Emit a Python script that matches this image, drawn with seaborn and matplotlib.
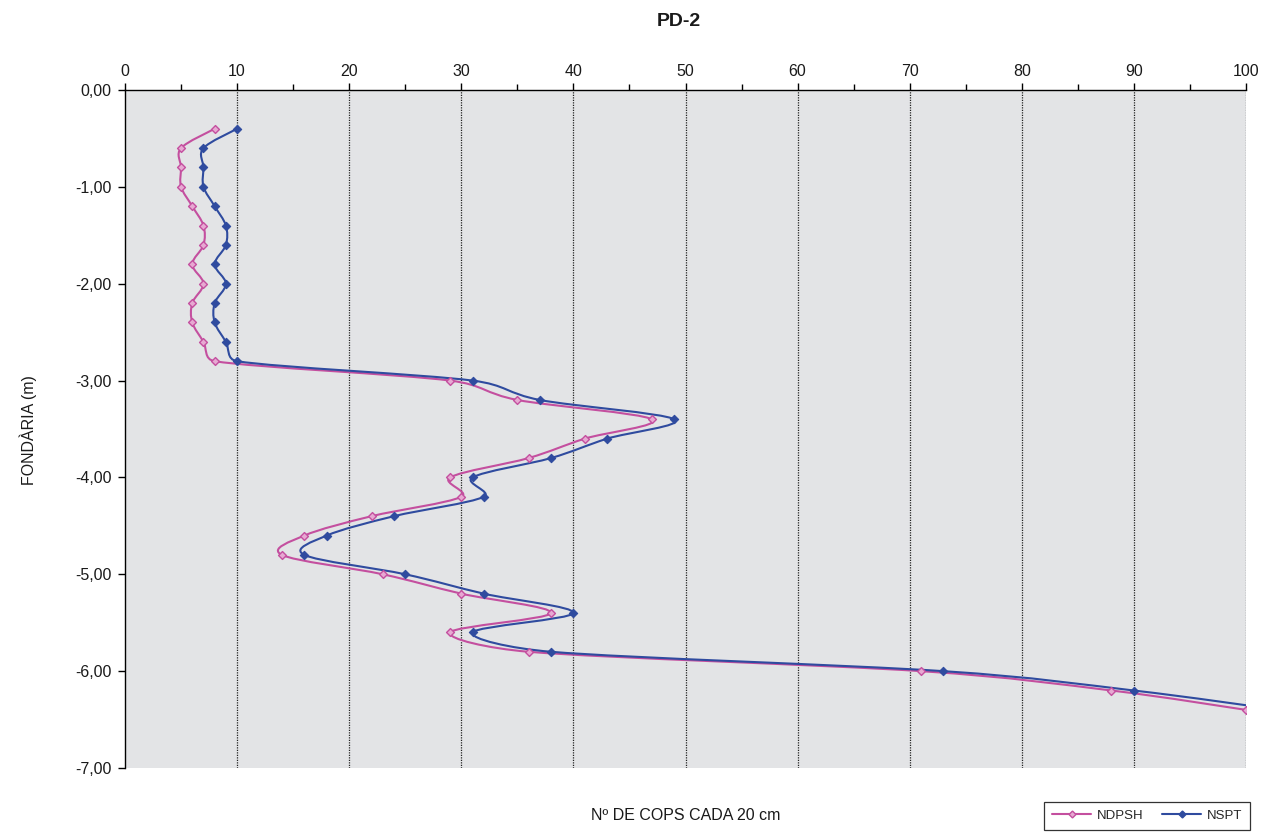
import numpy as np
import pandas as pd
import seaborn as sns
import matplotlib
matplotlib.use("Agg")
import matplotlib.pyplot as plt
from matplotlib.path import Path
from matplotlib.patches import PathPatch
from matplotlib.lines import Line2D
from matplotlib.ticker import MultipleLocator, FuncFormatter

# ---- data ----
depth = [-0.4, -0.6, -0.8, -1.0, -1.2, -1.4, -1.6, -1.8, -2.0, -2.2, -2.4,
         -2.6, -2.8, -3.0, -3.2, -3.4, -3.6, -3.8, -4.0, -4.2, -4.4, -4.6,
         -4.8, -5.0, -5.2, -5.4, -5.6, -5.8, -6.0, -6.2, -6.4]
ndpsh = [8, 5, 5, 5, 6, 7, 7, 6, 7, 6, 6, 7, 8, 29, 35, 47, 41, 36, 29, 30,
         22, 16, 14, 23, 30, 38, 29, 36, 71, 88, 100]
nspt = [10, 7, 7, 7, 8, 9, 9, 8, 9, 8, 8, 9, 10, 31, 37, 49, 43, 38, 31, 32,
        24, 18, 16, 25, 32, 40, 31, 38, 73, 90, 103]
series_names = ["NDPSH", "NSPT"]
x_ticks = [0, 10, 20, 30, 40, 50, 60, 70, 80, 90, 100]
y_ticks = [0, -1, -2, -3, -4, -5, -6, -7]
title = "PD-2"
xlabel = "Nº DE COPS CADA 20 cm"
ylabel = "FONDÀRIA (m)"

colors = {"NDPSH": "#C44F9F", "NSPT": "#2F4B9F"}

sns.set_style("white")
plt.rcParams["font.family"] = ["Liberation Sans", "DejaVu Sans"]

fig = plt.figure(figsize=(12.62, 8.35), dpi=100)
ax = fig.add_axes([125 / 1262, 1 - 768 / 835, (1246 - 125) / 1262, (768 - 90) / 835])
ax.set_facecolor("#E3E4E6")
ax.set_xlim(0, 100)
ax.set_ylim(-7, 0)

df = pd.DataFrame({
    "depth": depth * 2,
    "value": ndpsh + nspt,
    "serie": ["NDPSH"] * len(depth) + ["NSPT"] * len(depth),
})


def smooth_path(xs, ys, ax):
    """Excel-like smoothed line: cubic Bezier through the data points,
    tangents limited in screen space to avoid large overshoot."""
    D = np.column_stack([xs, ys]).astype(float)
    P = ax.transData.transform(D)
    n = len(P)
    verts = [D[0]]
    codes = [Path.MOVETO]
    inv = ax.transData.inverted()
    for i in range(n - 1):
        p0 = P[i - 1] if i > 0 else P[i]
        p1 = P[i]
        p2 = P[i + 1]
        p3 = P[i + 2] if i + 2 < n else P[i + 1]
        seg = np.linalg.norm(p2 - p1)
        t1 = (p2 - p0) / 6.0
        t2 = (p3 - p1) / 6.0
        lim = seg * 0.5
        for t in (t1, t2):
            L = np.linalg.norm(t)
            if L > lim and L > 0:
                t *= lim / L
        c1 = p1 + t1
        c2 = p2 - t2
        verts += list(inv.transform(np.array([c1, c2]))) + [D[i + 1]]
        codes += [Path.CURVE4] * 3
    return Path(verts, codes)


# smoothed lines
for name, vals in (("NDPSH", ndpsh), ("NSPT", nspt)):
    patch = PathPatch(smooth_path(vals, depth, ax), facecolor="none",
                      edgecolor=colors[name], lw=1.5, zorder=3)
    ax.add_patch(patch)

# markers via seaborn
sns.scatterplot(data=df[df.serie == "NDPSH"], x="value", y="depth", ax=ax,
                marker="D", s=16, color="#E7A9D2", edgecolor=colors["NDPSH"],
                linewidth=1.0, zorder=4, legend=False, clip_on=True)
sns.scatterplot(data=df[df.serie == "NSPT"], x="value", y="depth", ax=ax,
                marker="D", s=18, color=colors["NSPT"], edgecolor=colors["NSPT"],
                linewidth=0.8, zorder=4, legend=False, clip_on=True)

ax.set_xlim(0, 100)
ax.set_ylim(-7, 0)
ax.set_xlabel("")
ax.set_ylabel("")

# axes styling
ax.xaxis.tick_top()
ax.set_xticks(x_ticks)
ax.xaxis.set_minor_locator(MultipleLocator(5))
ax.set_yticks(y_ticks)
ax.yaxis.set_major_formatter(FuncFormatter(
    lambda v, p: ("%.2f" % (0 if abs(v) < 1e-9 else v)).replace(".", ",")))
ax.tick_params(axis="x", which="major", top=True, bottom=False, direction="out",
               length=5, width=1, colors="black", labelsize=11.5, pad=3)
ax.tick_params(axis="x", which="minor", top=True, bottom=False, direction="out",
               length=4, width=1, colors="black")
ax.tick_params(axis="y", which="major", left=True, direction="out",
               length=5, width=1, colors="black", labelsize=11.5, pad=4.5)
for t in ax.get_xticklabels() + ax.get_yticklabels():
    t.set_color("#1a1a1a")

for s in ("bottom", "right"):
    ax.spines[s].set_visible(False)
for s in ("top", "left"):
    ax.spines[s].set_visible(True)
    ax.spines[s].set_color("black")
    ax.spines[s].set_linewidth(1.0)

# vertical dotted gridlines
ax.grid(False)
for xv in x_ticks[1:]:
    ax.axvline(xv, color="#222222", lw=0.9, ls=(0, (1, 1)), zorder=1)

# texts
fig.text(679 / 1262, 1 - 22 / 835, title, ha="center", va="center",
         fontsize=14, fontweight="bold", color="#1a1a1a")
fig.text(686 / 1262, 1 - 816 / 835, xlabel, ha="center", va="center",
         fontsize=11.5, color="#1a1a1a")
fig.text(28 / 1262, 1 - 430 / 835, ylabel, ha="center", va="center",
         rotation=90, fontsize=11.5, color="#1a1a1a")

# legend
handles = [
    Line2D([], [], color=colors["NDPSH"], lw=1.5, marker="D", markersize=3.5,
           markerfacecolor="#E7A9D2", markeredgecolor=colors["NDPSH"]),
    Line2D([], [], color=colors["NSPT"], lw=1.5, marker="D", markersize=3.5,
           markerfacecolor=colors["NSPT"], markeredgecolor=colors["NSPT"]),
]
leg = fig.legend(handles, series_names, loc="lower right",
                 bbox_to_anchor=(1250 / 1262, 1 - 830 / 835),
                 bbox_transform=fig.transFigure, borderaxespad=0, ncol=2,
                 frameon=True, fancybox=False, fontsize=9.5, handlelength=3.0,
                 columnspacing=1.4, handletextpad=0.4, borderpad=0.6,
                 edgecolor="black")
leg.get_frame().set_linewidth(0.9)

fig.savefig("out.png", dpi=100)
